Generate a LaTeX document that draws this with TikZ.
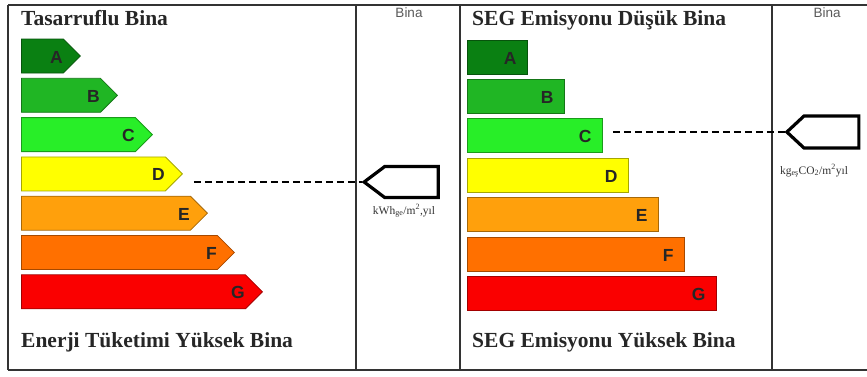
\documentclass[tikz,border=0pt]{standalone}
\usepackage{fontspec}
\setmainfont{Liberation Serif}
\setsansfont{Liberation Sans}
\usetikzlibrary{shapes.symbols,calc}

\definecolor{clsA}{RGB}{10,128,18}
\definecolor{clsB}{RGB}{32,182,36}
\definecolor{clsC}{RGB}{40,238,40}
\definecolor{clsD}{RGB}{255,255,0}
\definecolor{clsE}{RGB}{255,160,12}
\definecolor{clsF}{RGB}{255,112,0}
\definecolor{clsG}{RGB}{250,0,0}

\begin{document}
\begin{tikzpicture}[
    x=1pt, y=-1pt,
    frame/.style={line width=1.3pt, draw=black!80},
    heading/.style={font=\fontsize{21.5}{21.5}\selectfont\bfseries, text=black!85, inner sep=0pt, anchor=base west},
    letter/.style={font=\fontsize{17.5}{17.5}\sffamily\bfseries, text=black!85, inner sep=0pt, anchor=east},
    arrowbar/.style={
        signal, signal to=east, signal pointer angle=90,
        draw=#1!65!black, fill=#1, line width=0.8pt,
        minimum height=34, inner sep=0pt, anchor=west
    },
    plainbar/.style={
        rectangle, draw=#1!65!black, fill=#1, line width=0.8pt,
        minimum height=34, inner sep=0pt, anchor=west
    },
    pointer/.style={
        signal, signal to=west, draw=black, line width=3.2pt,
        inner sep=0pt, anchor=west
    },
    unit/.style={font=\fontsize{11.5}{11.5}\selectfont, text=black!80, inner sep=0pt},
    columnhead/.style={font=\fontsize{13.5}{13.5}\sffamily, text=black!65, inner sep=0pt}
  ]
  \useasboundingbox (0,0) rectangle (867,376);

  % frames
  \draw [frame] (8,5) -- (867,5);
  \draw [frame] (8,370) -- (867,370);
  \draw [frame] (8,5) -- (8,370);
  \draw [frame] (356,5) -- (356,370);
  \draw [frame] (460,5) -- (460,370);
  \draw [frame] (772,5) -- (772,370);

  % energy scale
  \node [heading] (tasarruf) at (21,25) {Tasarruflu Bina};
  \node [heading] (enerji) at (21,347) {Enerji Tüketimi Yüksek Bina};
  \foreach \cls/\bodyend [count=\i from 0] in {A/63, B/100, C/135, D/165, E/190, F/217, G/245} {
    \node [arrowbar=cls\cls, minimum width=\bodyend+17-21] (bar\cls) at (21,{56+39.3*\i}) {};
    \node [letter] (let\cls) at ($(bar\cls.east)+(-18,1)$) {\cls};
  }

  % emission scale
  \node [heading] (segdusuk) at (472,25) {SEG Emisyonu Düşük Bina};
  \node [heading] (segyuksek) at (472,347) {SEG Emisyonu Yüksek Bina};
  \foreach \cls/\bodyend [count=\i from 0] in {A/527, B/564, C/602, D/628, E/658, F/684, G/716} {
    \node [plainbar=cls\cls, minimum width=\bodyend-467] (seg\cls) at (467,{57+39.4*\i}) {};
    \node [letter] (sl\cls) at ($(seg\cls.east)+(-11,1)$) {\cls};
  }

  % building columns
  \node [columnhead] (binaL) at (409,13) {Bina};
  \node [columnhead] (binaR) at (827,13) {Bina};

  \node [pointer, signal pointer angle=74, minimum width=74, minimum height=31] (indE) at (361.5,182) {};
  \node [unit] (unitE) at (404,211) {kWh\textsubscript{ge}/m\textsuperscript{2},yıl};
  \node [pointer, signal pointer angle=86, minimum width=72, minimum height=32] (indS) at (784.5,132) {};
  \node [unit] (unitS) at (814,171) {kg\textsubscript{eş}CO\textsubscript{2}/m\textsuperscript{2}yıl};

  \draw [line width=1.1pt, dash pattern=on 7pt off 4pt] ([xshift=11pt]indE.west -| barD.east) -- (indE.west);
  \draw [line width=1.1pt, dash pattern=on 7pt off 4pt] ([xshift=10pt]indS.west -| segC.east) -- (indS.west);

\end{tikzpicture}
\end{document}
